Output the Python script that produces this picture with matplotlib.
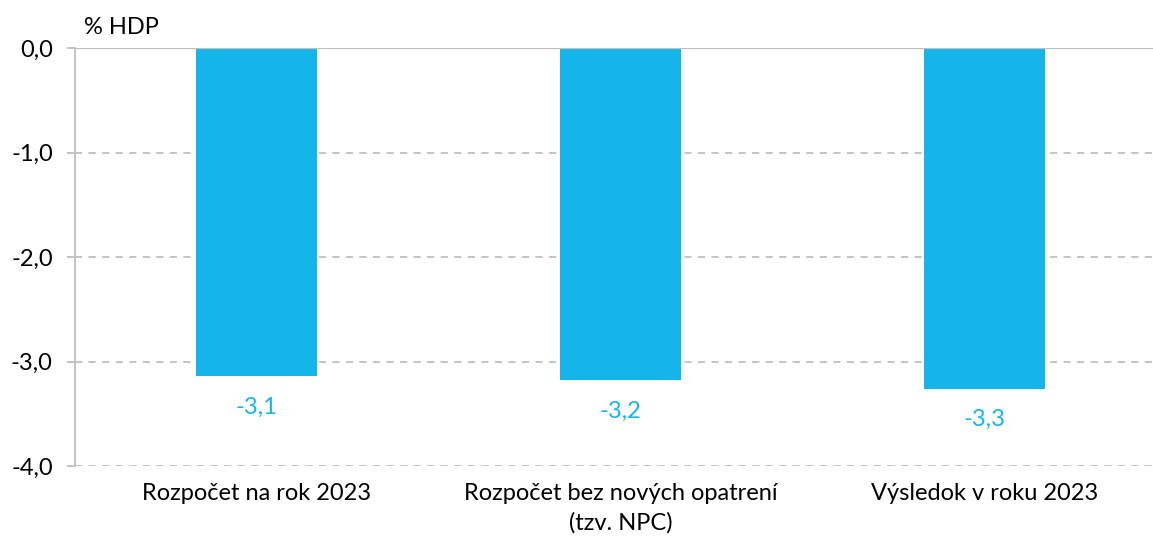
import matplotlib.pyplot as plt

plt.rcParams['font.family'] = ['Lato', 'DejaVu Sans']

kategorie = ['Rozpočet na rok 2023', 'Rozpočet bez nových opatrení\n(tzv. NPC)', 'Výsledok v roku 2023']
hodnoty = [-3.14, -3.18, -3.26]
popisky = ['-3,1', '-3,2', '-3,3']
y_ticky = [0, -1, -2, -3, -4]
y_popisky = ['0,0', '-1,0', '-2,0', '-3,0', '-4,0']

modra = '#15B5EA'
seda = '#BFBFBF'
fs = 17

fig = plt.figure(figsize=(11.53, 5.42), dpi=100)
ax = fig.add_axes([75 / 1153, 1 - 466 / 542, 1 - 75 / 1153, (466 - 48) / 542])

x = range(len(kategorie))
ax.bar(x, hodnoty, width=0.333, color=modra, zorder=3)

for xi, v, t in zip(x, hodnoty, popisky):
    ax.annotate(t, (xi, v), xytext=(0, -31), textcoords='offset pixels',
                ha='center', va='center', color=modra, fontsize=fs)

ax.set_ylim(-4, 0)
ax.set_xlim(-0.5, 2.5 - 13 / 364)
ax.set_yticks(y_ticky)
ax.set_yticklabels(y_popisky, fontsize=fs)
ax.set_xticks(list(x))
ax.set_xticklabels(kategorie, fontsize=fs, linespacing=1.5)

for yv in y_ticky[1:]:
    ax.axhline(yv, color=seda, lw=1.3, ls=(0, (4, 3.5)), zorder=1)
ax.axhline(0, color=seda, lw=1.6, zorder=4)

for s in ['top', 'right', 'bottom']:
    ax.spines[s].set_visible(False)
ax.spines['left'].set_color(seda)
ax.spines['left'].set_linewidth(1.3)
ax.tick_params(axis='y', color=seda, length=6, width=1.3, pad=10)
ax.tick_params(axis='x', length=0, pad=12)

fig.text(84 / 1153, 1 - 28 / 542, '% HDP', fontsize=fs, va='center', ha='left')

fig.savefig('out.png', dpi=100)
